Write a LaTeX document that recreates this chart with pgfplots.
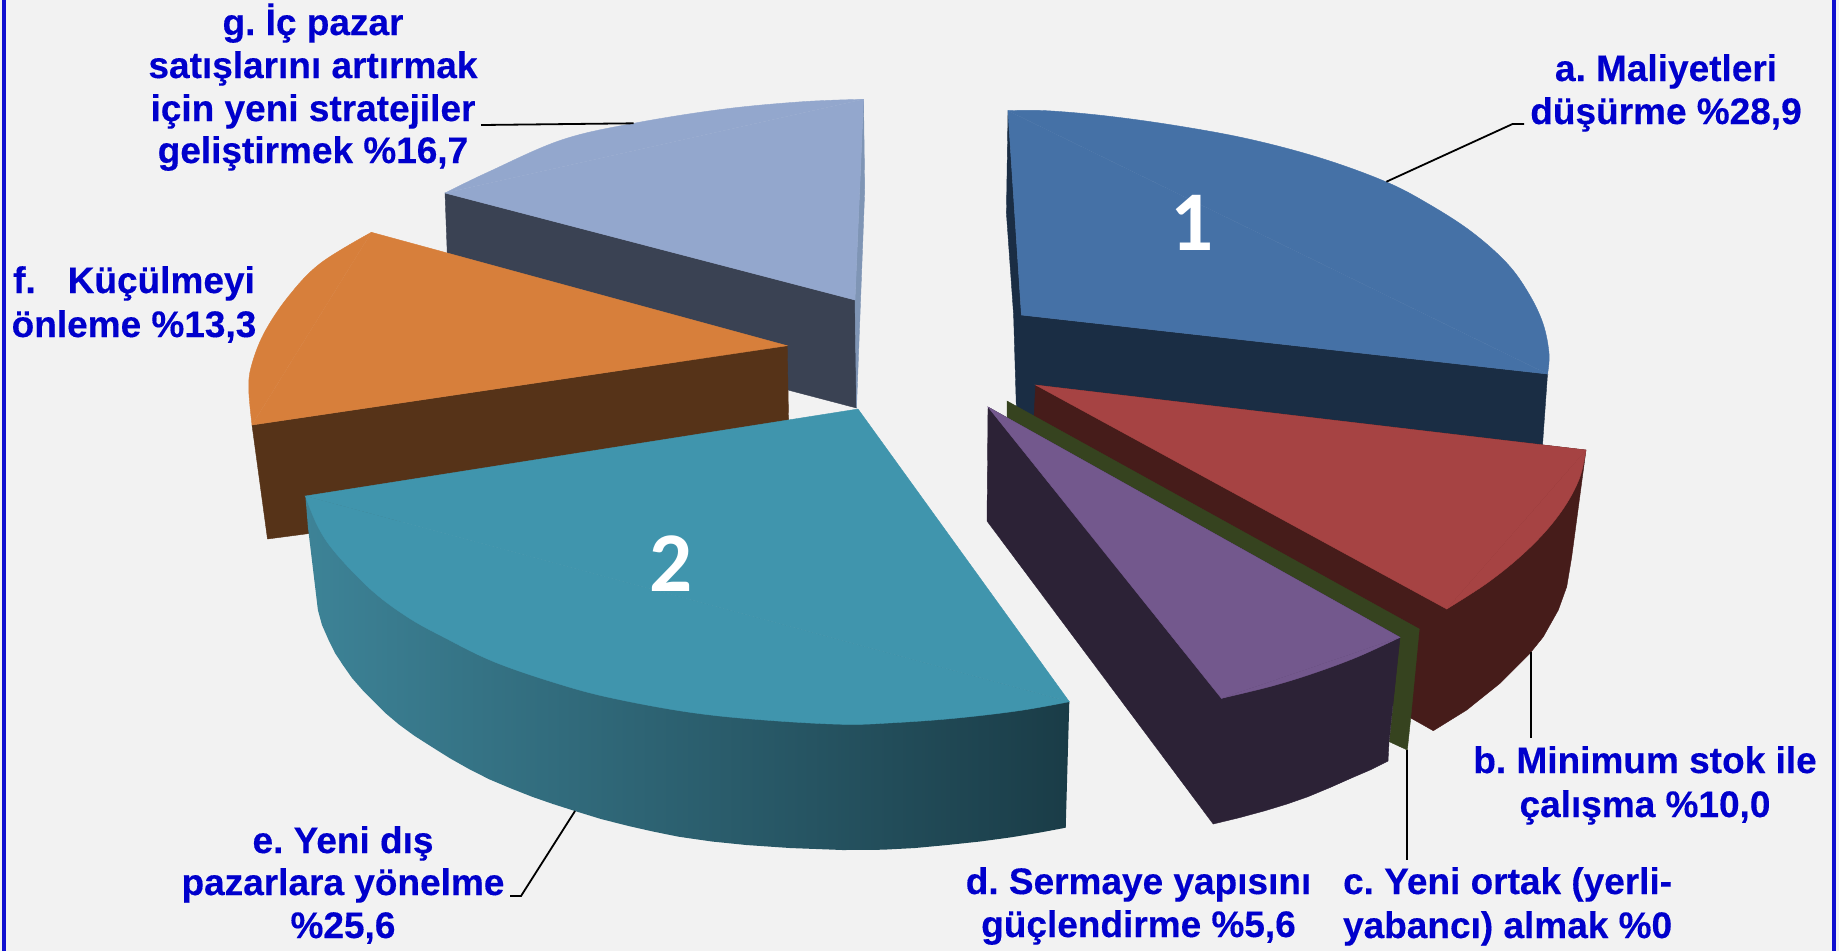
\documentclass[border=0pt]{standalone}
\usepackage{pgfplots}
\pgfplotsset{compat=1.18}
\usepackage{fontspec}
\setmainfont{Liberation Sans}[BoldFeatures={FakeBold=0.3}]
\newfontfamily\carl{Carlito}
\frenchspacing
\definecolor{bg}{HTML}{F2F2F2}
\definecolor{frameblue}{HTML}{1010D0}
\definecolor{lab}{HTML}{0000CC}
\definecolor{aTop}{HTML}{4571A6}
\definecolor{aSide}{HTML}{1A2D44}
\definecolor{bTop}{HTML}{A64343}
\definecolor{bSide}{HTML}{461C1A}
\definecolor{cSide}{HTML}{36431F}
\definecolor{dTop}{HTML}{73588D}
\definecolor{dSide}{HTML}{2C2236}
\definecolor{eTop}{HTML}{4095AD}
\definecolor{eL}{HTML}{3D8397}
\definecolor{eM}{HTML}{2E6878}
\definecolor{eR}{HTML}{1A3C47}
\definecolor{fTop}{HTML}{D77F3B}
\definecolor{fSide}{HTML}{563318}
\definecolor{gTop}{HTML}{93A7CD}
\definecolor{gSide}{HTML}{3A4253}
\definecolor{gEdge}{HTML}{7F95B5}
\newcommand{\lab}[3]{\node[anchor=base,text=lab,font=\fontsize{18.5}{21}\selectfont\bfseries,inner sep=0pt] at (axis cs:#1,#2) {#3};}
\newcommand{\num}[3]{\node[anchor=base,text=white,font=\carl\fontsize{42.5}{48}\selectfont\bfseries,inner sep=0pt] at (axis cs:#1,#2) {#3};}
\pgfplotsset{poly/.style={draw=#1,fill=#1,line width=0.2pt,sharp plot,forget plot},
  arc/.style={draw=#1,fill=#1,line width=0.2pt,smooth,tension=0.6,forget plot},
  lead/.style={draw=black,line width=0.9pt,sharp plot,no marks,forget plot}}
\begin{document}
\begin{tikzpicture}
\begin{axis}[scale only axis,width=919.5pt,height=475pt,xmin=0,xmax=1839,ymin=0,ymax=950,y dir=reverse,hide axis,no marks,clip=true]
% background and frame
\addplot[poly=bg] coordinates {(0,0)(1839,0)(1839,950)(0,950)} --cycle;
\addplot[poly=frameblue] coordinates {(2,0)(5,0)(5,950)(2,950)} --cycle;
\addplot[poly=frameblue] coordinates {(1832,0)(1835,0)(1835,950)(1832,950)} --cycle;
% g
\addplot[poly=gSide] coordinates {(445,193)(449,301)(856.5,408)(855,300)} --cycle;
\addplot[poly=gEdge] coordinates {(863.5,99)(864.7,190)(856.5,408)(855,300)} --cycle;
\addplot[arc=gTop] coordinates {(445,193)(489,171.7)(561.4,140)(633.7,123.3)(722,109.3)(802.5,101.7)(863.5,99.3)};
\addplot[poly=gTop] coordinates {(445,193)(863.5,99.3)(855,300)} --cycle;
% f
\addplot[poly=fSide] coordinates {(252,425)(267.5,539)(789.5,470)(787.2,345.7)} --cycle;
\addplot[arc=fTop] coordinates {(371.4,232.3)(320.4,263.3)(288.2,296.7)(264,333.3)(251.2,366.7)(248.8,390)(252,425)};
\addplot[poly=fTop] coordinates {(371.4,232.3)(252,425)(787.2,345.7)} --cycle;
% a
\addplot[poly=aSide] coordinates {(1008,111)(1006.4,213)(1013.6,315)(1017,430)(1540,480)(1547.5,374)(1021.4,315)} --cycle;
\addplot[arc=aTop] coordinates {(1007.9,110.7)(1046.4,110.7)(1107,116)(1178.6,126)(1250,139.3)(1321.4,158.3)(1385.7,181.7)(1428.6,204)(1471.4,231.7)(1507,263.3)(1528.6,293.3)(1542.9,323.3)(1549,353.3)(1547.5,374)};
\addplot[poly=aTop] coordinates {(1007.9,110.7)(1547.5,374)(1021.4,315)} --cycle;
% b
\addplot[poly=bSide] coordinates {(1035.6,385)(1034,417)(1411.3,718.3)(1433.3,730.7)(1466.7,710)(1500,683.3)(1530,653.3)(1543.3,636.7)(1558.3,610)(1566.7,586.7)(1571.7,556.7)(1586,450)} --cycle;
\addplot[arc=bTop] coordinates {(1586,450)(1580,476.7)(1566.7,503.3)(1546.7,530)(1520,556.7)(1486.7,583.3)(1446.7,609)};
\addplot[poly=bTop] coordinates {(1035.6,385)(1586,450)(1446.7,609)} --cycle;
% c
\addplot[poly=cSide] coordinates {(1007,401)(1419.3,629)(1410.7,718)(1407.3,750)(1389.3,741.7)(1400,637.3)(1007,417.6)} --cycle;
% d
\addplot[poly=dSide] coordinates {(988,407)(987,521)(1213.2,824)(1240,817.5)(1265,810.7)(1287,804)(1307.9,796.7)(1330,787.5)(1350.7,778.3)(1370,770)(1388,761)(1389,741.7)(1400,637.3)} --cycle;
\addplot[arc=dTop] coordinates {(1400,637.3)(1357.9,656.7)(1315,672.7)(1272,686)(1221.4,698.3)};
\addplot[poly=dTop] coordinates {(988,407)(1400,637.3)(1221.4,698.3)} --cycle;
% e
\addplot[draw=none,left color=eL,middle color=eM,right color=eR,forget plot] coordinates {(305.4,496)(307.9,526.7)(317.9,610)(322,625)(328.6,640)(335,653)(342.9,665)(352,678)(362.5,690)(385.7,713.3)(399,724.5)(414.3,735.7)(432,747)(450,758.3)(469,769)(489.3,779.3)(510,788)(532,796.7)(553,804)(575,811)(601,819)(628.6,826)(653,831.5)(678.6,836.7)(712,841.5)(746.4,845)(790,848)(842.9,850)(882.9,849.7)(915,848)(947,845)(980,841.5)(1011,837.3)(1040,832.5)(1065.7,827.7)(1069.3,701.7)} --cycle;
\addplot[arc=eTop] coordinates {(305.4,496)(318,526.7)(335.7,553)(371.4,590)(407,616.7)(442.9,636.7)(496.4,662.7)(567.9,686.7)(621.4,700)(692.9,712.7)(764.3,720)(842.9,724.3)(893.6,722.7)(954,718.3)(1018.6,710.7)(1069.3,701.7)};
\addplot[poly=eTop] coordinates {(305.4,496)(858,409)(1069.3,701.7)} --cycle;
% leaders
\addplot[lead] coordinates {(1386.4,181.7)(1512.5,124)(1524,124)};
\addplot[lead] coordinates {(481,125)(633.7,123.3)};
\addplot[lead] coordinates {(575,811)(521,896)(510,896)};
\addplot[lead] coordinates {(1530.7,652.3)(1530.7,738.3)};
\addplot[lead] coordinates {(1407,750)(1407,860)};
% labels
\lab{313}{35}{g. İç pazar}
\lab{313}{78}{satışlarını artırmak}
\lab{313}{121}{için yeni stratejiler}
\lab{313}{163}{geliştirmek \%16,7}
\lab{134}{293}{f.\hspace{16pt}Küçülmeyi}
\lab{134}{337}{önleme \%13,3}
\lab{1666}{81}{a. Maliyetleri}
\lab{1666}{124}{düşürme \%28,9}
\lab{1645}{773}{b. Minimum stok ile}
\lab{1645}{817}{çalışma \%10,0}
\lab{1507.6}{894}{c. Yeni ortak (yerli-}
\lab{1507.6}{938}{yabancı) almak \%0}
\lab{1138.5}{894}{d. Sermaye yapısını}
\lab{1138.5}{937}{güçlendirme \%5,6}
\lab{343}{853}{e. Yeni dış}
\lab{343}{895}{pazarlara yönelme}
\lab{343}{938}{\%25,6}
\num{1191.7}{250.7}{1}
\num{670.6}{591.7}{2}
\end{axis}
\end{tikzpicture}
\end{document}
